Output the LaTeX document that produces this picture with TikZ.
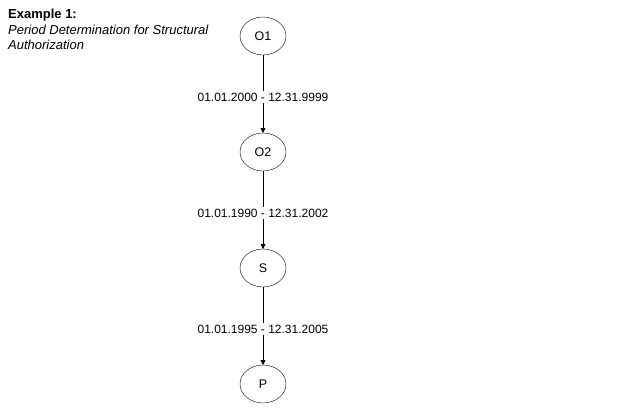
\documentclass[tikz,border=0pt]{standalone}
\usepackage{fontspec}
\setmainfont{Liberation Sans}
\usepackage{tkz-graph}
\usetikzlibrary{shapes.geometric, arrows.meta, positioning}

\begin{document}
\begin{tikzpicture}[x=1pt,y=-1pt]
\def \posunx {263}
\useasboundingbox (0,0) rectangle (636,416);
\SetVertexNoLabel
   \tikzset{VertexStyle/.style = {shape = ellipse, draw, minimum width = 46pt, minimum height = 38pt, inner sep = 0pt}}
   \tikzset{NameStyle/.style = {font=\fontsize{12.5}{14}\selectfont}}
   \Vertex[x=0+\posunx ,y=36]{O1}
   \Vertex[x=0+\posunx ,y=152]{O2}
   \Vertex[x=0+\posunx ,y=268]{S}
   \Vertex[x=0+\posunx ,y=384]{P}
   \node[NameStyle] at (O1) {O1};
   \node[NameStyle] at (O2) {O2};
   \node[NameStyle] at (S) {S};
   \node[NameStyle] at (P) {P};

   \tikzset{EdgeStyle/.style = {-{Triangle[length=5pt,width=5pt]}, line width=0.8pt}}
   \tikzset{DateStyle/.style = {fill = white, inner sep = 1.5pt, yshift = -3pt, font=\fontsize{12}{14}\selectfont}}
	\draw[EdgeStyle] (O1) -- node[DateStyle]{01.01.2000 - 12.31.9999} (O2);
	\draw[EdgeStyle] (O2) -- node[DateStyle]{01.01.1990 - 12.31.2002} (S);
	\draw[EdgeStyle] (S) -- node[DateStyle]{01.01.1995 - 12.31.2005} (P);
%
   \node[anchor=north west, inner sep=0pt, font=\bfseries\fontsize{13}{15}\selectfont] (title) at (8,9) {Example 1:};
   \node[below=3pt of title.south west, anchor=north west, inner sep=0pt, align=left, font=\itshape\fontsize{13}{15.5}\selectfont] (subtitle) {Period Determination for Structural\\Authorization};
\end{tikzpicture}
\end{document}
